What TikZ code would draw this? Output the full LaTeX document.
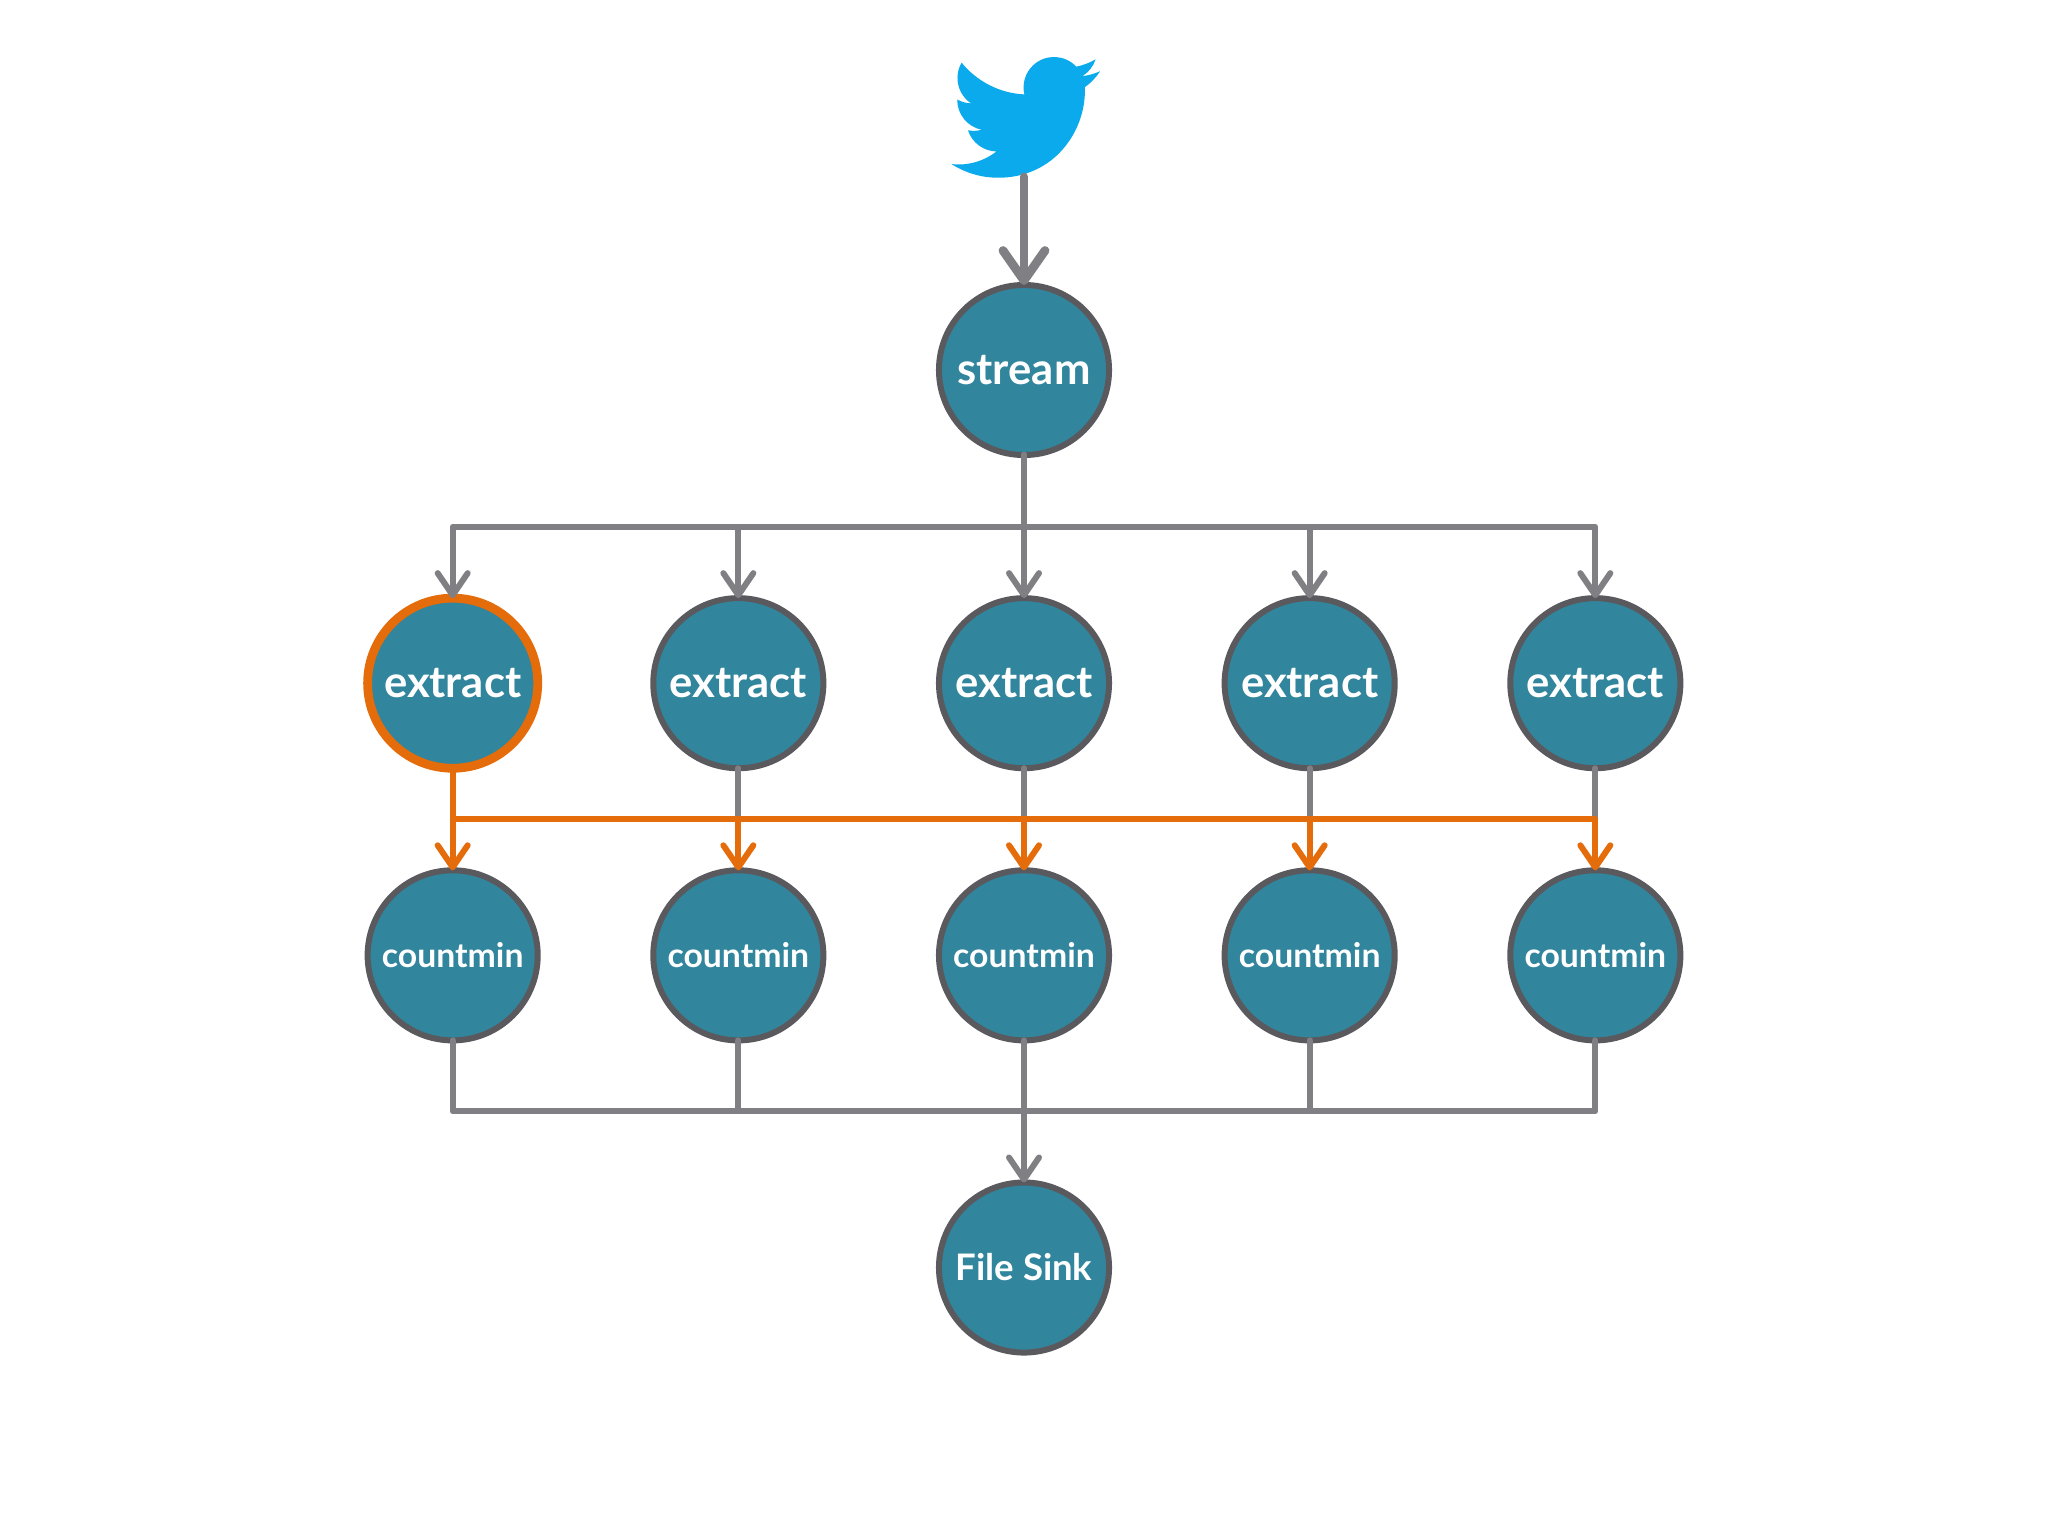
\documentclass[tikz,border=0pt]{standalone}
\usepackage{fontspec}
\setmainfont{Lato}
\usetikzlibrary{
        arrows.meta,
        calc,
        positioning,
        svg.path
    }
\definecolor{nodeteal}{HTML}{31859C}
\definecolor{nodeedge}{HTML}{5A5A5E}
\definecolor{linkgray}{HTML}{808084}
\definecolor{hotorange}{HTML}{E46C0A}
\definecolor{twitterblue}{HTML}{0AAAEC}
\tikzset{>={Straight Barb[length=2.2mm,width=3mm,round]},node distance=1.2cm}
\tikzset{round state/.style={circle,draw=nodeedge,line width=1.7pt,fill=nodeteal,minimum size=1.7cm,inner sep=0pt,outer sep=0pt,text=white,font=\bfseries\fontsize{12.4}{14}\selectfont}}
\tikzset{small state/.style={round state,font=\bfseries\fontsize{9.6}{12}\selectfont}}
\tikzset{sink state/.style={round state,font=\bfseries\fontsize{10.4}{12}\selectfont}}
\tikzset{hot state/.style={round state,draw=hotorange,line width=2.5pt}}
\tikzset{link/.style={draw=linkgray,line width=1.7pt,line cap=round,line join=round}}
\tikzset{hot link/.style={link,draw=hotorange}}

\begin{document}
\begin{tikzpicture}[x=0.01cm,y=-0.01cm]
                \useasboundingbox[fill=white] (0,0) rectangle (2048,1536);
                \node[round state] (stream) at (1024,370) {stream};
                \node[inner sep=0pt,outer sep=0pt,minimum width=1.45cm,minimum height=1.2cm] (bird) [above=1.08cm of stream] {};
                \fill[twitterblue,shift={([yshift=3.9pt]bird.north west)},scale=1.76,yscale=-1]
                    svg {M 23.953 4.57 a 10 10 0 0 1 -2.825 0.775 a 4.958 4.958 0 0 0 2.163 -2.723
                         c -0.951 0.555 -2.005 0.959 -3.127 1.184 a 4.92 4.92 0 0 0 -8.384 4.482
                         C 7.69 8.095 4.067 6.13 1.64 3.162 a 4.822 4.822 0 0 0 -0.666 2.475
                         c 0 1.71 0.87 3.213 2.188 4.096 a 4.904 4.904 0 0 1 -2.228 -0.616 v 0.06
                         a 4.923 4.923 0 0 0 3.946 4.827 a 4.996 4.996 0 0 1 -2.212 0.085
                         a 4.936 4.936 0 0 0 4.604 3.417 a 9.867 9.867 0 0 1 -6.102 2.105
                         c -0.39 0 -0.779 -0.023 -1.17 -0.067 a 13.995 13.995 0 0 0 7.557 2.209
                         c 9.053 0 13.998 -7.496 13.998 -13.985 c 0 -0.21 0 -0.42 -0.015 -0.63
                         A 9.935 9.935 0 0 0 24 4.59 z};
                \node[round state] (e3) [below=1.43cm of stream] {extract};
                \node[round state] (e2) [left=1.155cm of e3]     {extract};
                \node[hot state]   (e1) [left=1.155cm of e2]     {extract};
                \node[round state] (e4) [right=1.155cm of e3]    {extract};
                \node[round state] (e5) [right=1.155cm of e4]    {extract};
                \node[small state] (c1) [below=1.02cm of e1]     {countmin};
                \node[small state] (c2) [below=1.02cm of e2]     {countmin};
                \node[small state] (c3) [below=1.02cm of e3]     {countmin};
                \node[small state] (c4) [below=1.02cm of e4]     {countmin};
                \node[small state] (c5) [below=1.02cm of e5]     {countmin};
                \node[sink state]  (sink) [below=1.42cm of c3]   {File Sink};
                \coordinate (fork)    at ($(stream.south)!0.5!(e3.north)$);
                \coordinate (shuffle) at ($(e1.south)!0.5!(c1.north)$);
                \coordinate (merge)   at ($(c3.south)!0.5!(sink.north)$);
                % source
                \draw[link,line width=2.5pt,-{Straight Barb[length=3mm,width=4.2mm,round]}] (bird) -- (stream);
                % stream to extract
                \draw[link,->] (stream) -- (fork) -| (e1);
                \draw[link,->] (stream) -- (fork) -| (e2);
                \draw[link,->] (stream) -- (e3);
                \draw[link,->] (stream) -- (fork) -| (e4);
                \draw[link,->] (stream) -- (fork) -| (e5);
                % extract to countmin
                \draw[link] (e2) -- (e2 |- shuffle);
                \draw[link] (e3) -- (e3 |- shuffle);
                \draw[link] (e4) -- (e4 |- shuffle);
                \draw[link] (e5) -- (e5 |- shuffle);
                \draw[hot link,->] (e1) -- (c1);
                \draw[hot link,->] (e1) -- (shuffle) -| (c2);
                \draw[hot link,->] (e1) -- (shuffle) -| (c3);
                \draw[hot link,->] (e1) -- (shuffle) -| (c4);
                \draw[hot link,->] (e1) -- (shuffle) -| (c5);
                % countmin to sink
                \draw[link] (c1) |- (merge);
                \draw[link] (c2) |- (merge);
                \draw[link] (c4) |- (merge);
                \draw[link] (c5) |- (merge);
                \draw[link,->] (c3) -- (merge) -- (sink);
            \end{tikzpicture}
\end{document}
